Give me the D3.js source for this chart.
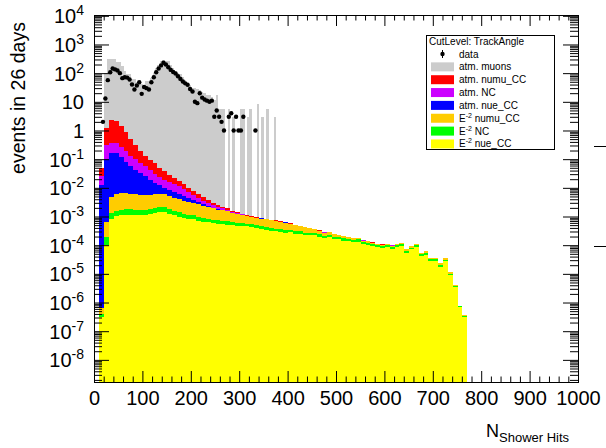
<!DOCTYPE html>
<html><head><meta charset="utf-8">
<script src="https://cdn.jsdelivr.net/npm/d3@7"></script>
<style>
body{margin:0;background:#fff}
svg{display:block}
text{font-family:"Liberation Sans",Arial,Helvetica,sans-serif;fill:#000}
</style></head>
<body><svg id="c" width="606" height="448"></svg>
<script>
// ---------------- DATA ----------------
// neutrino histograms: 10-unit bins starting at 0 (bin i = [10i, 10i+10])
const e2NueCC = [0,3.2e-7,1.0e-4,7.9e-4,1.05e-3,1.12e-3,1.17e-3,1.17e-3,1.12e-3,1.10e-3,
 1.12e-3,1.20e-3,1.32e-3,1.38e-3,1.38e-3,1.26e-3,1.10e-3,1.0e-3,9.1e-4,8.3e-4,
 7.9e-4,7.2e-4,6.6e-4,6.2e-4,5.9e-4,5.6e-4,5.4e-4,5.2e-4,5.0e-4,4.8e-4,
 4.7e-4,4.5e-4,4.2e-4,4.0e-4,3.8e-4,3.5e-4,3.2e-4,3.0e-4,2.8e-4,2.75e-4,
 2.8e-4,2.5e-4,2.5e-4,2.3e-4,2.2e-4,2.2e-4,2.0e-4,1.8e-4,1.9e-4,1.66e-4,
 1.58e-4,1.45e-4,1.35e-4,1.26e-4,1.32e-4,1.12e-4,1.05e-4,9.5e-5,8.7e-5,8.1e-5,
 8.9e-5,7.6e-5,8.7e-5,9.3e-5,5.4e-5,7.1e-5,8.9e-5,4.2e-5,4.7e-5,2.8e-5,
 2.8e-5,1.8e-5,2.75e-5,8.9e-6,3.4e-6,6.8e-7,3.2e-7,0];
const e2NC = [0,8e-8,1.0e-4,5.2e-4,5.4e-4,5.7e-4,6.0e-4,6.0e-4,5.7e-4,5.6e-4,
 5.7e-4,6.1e-4,6.7e-4,7.0e-4,7.0e-4,5.6e-4,4.9e-4,3.8e-4,3.5e-4,3.2e-4,
 3.0e-4,2.7e-4,2.1e-4,2.0e-4,1.9e-4,1.8e-4,1.7e-4,1.7e-4,1.3e-4,1.25e-4,
 1.2e-4,1.2e-4,1.1e-4,1.0e-4,9.9e-5,9.1e-5,8.3e-5,7.8e-5,7.3e-5,7.2e-5,
 5.6e-5,5.0e-5,5.0e-5,4.6e-5,4.4e-5,4.4e-5,4.0e-5,3.6e-5,3.8e-5,3.3e-5,
 3.2e-5,2.9e-5,2.7e-5,2.5e-5,2.6e-5,1.7e-5,1.6e-5,1.4e-5,1.3e-5,1.2e-5,
 1.3e-5,1.1e-5,1.3e-5,1.4e-5,8.1e-6,1.1e-5,1.3e-5,6.3e-6,7.1e-6,4.2e-6,
 4.2e-6,2.7e-6,4.1e-6,1.3e-6,3.4e-7,6.8e-8,3.2e-8,0];
const e2NumuCC = [0,2.3e-7,4.3e-4,3.6e-3,4.6e-3,4.9e-3,4.7e-3,4.5e-3,4.3e-3,4.1e-3,
 3.9e-3,3.9e-3,4.0e-3,4.0e-3,3.8e-3,3.2e-3,2.8e-3,2.6e-3,2.3e-3,2.1e-3,
 1.9e-3,1.7e-3,1.5e-3,1.3e-3,1.15e-3,1.0e-3,9.2e-4,8.2e-4,6.9e-4,6.0e-4,
 5.2e-4,4.5e-4,4.2e-4,3.8e-4,3.7e-4,3.7e-4,3.4e-4,3.3e-4,3.0e-4,2.7e-4,
 2.2e-4,1.9e-4,1.7e-4,1.5e-4,1.3e-4,9.2e-5,7.7e-5,5.7e-5,5.8e-5,4.5e-5,
 3.2e-5,2.9e-5,2.7e-5,2.2e-5,1.8e-5,1.5e-5,1.4e-5,1.3e-5,1.2e-5,1.1e-5,
 1.0e-5,1.0e-5,1.0e-5,1.1e-5,9.3e-6,8.1e-6,1.0e-5,5.8e-6,6.5e-6,3.9e-6,
 3.2e-6,2.4e-6,3.2e-6,1.0e-6,1.9e-7,1.5e-8,7e-9,0];
const atmNueCC = [0,1.26e-2,0.099,0.161,0.152,0.111,0.073,0.050,0.0357,0.0259,
 0.0195,0.0138,0.0091,0.006,0.0043,3.5e-3,3.0e-3,2.3e-3,1.6e-3,1.06e-3,
 7e-4,4.7e-4,2.9e-4,2.0e-4,9e-5,4e-5,4e-5,3e-5,2e-5,2e-5,
 1.5e-5,1.5e-5,1e-5,1e-5,1e-5,8e-6,6e-6,6e-6,5e-6,5e-6,
 4e-6,4e-6,3e-6,3e-6,3e-6,2e-6,2e-6,2e-6,2e-6,1.5e-6,
 1.5e-6,1e-6,1e-6,1e-6,1e-6,8e-7,8e-7,6e-7,6e-7,5e-7,
 5e-7,4e-7,4e-7,3e-7,3e-7,3e-7,2e-7,2e-7,2e-7,1e-7,
 1e-7,1e-7,1e-7,5e-8,0,0,0,0];
const atmNC = [0,1.25e-2,0.216,0.206,0.197,0.158,0.12,0.076,0.058,0.044,
 0.031,0.0232,0.0165,0.012,0.0091,7.3e-3,6.1e-3,4.9e-3,3.7e-3,2.7e-3,
 1.9e-3,1.3e-3,8.6e-4,6.1e-4,4.7e-4,3.2e-4,2.5e-4,2.0e-4,1.2e-4,8e-5,
 6e-5,4e-5,3e-5,2e-5,1.5e-5,1e-5,8e-6,8e-6,6e-6,6e-6,
 5e-6,5e-6,4e-6,4e-6,3e-6,3e-6,3e-6,2e-6,2e-6,2e-6,
 2e-6,1.5e-6,1.5e-6,1e-6,1e-6,1e-6,8e-7,8e-7,6e-7,6e-7,
 5e-7,5e-7,4e-7,4e-7,3e-7,3e-7,3e-7,2e-7,2e-7,2e-7,
 1e-7,1e-7,1e-7,1e-7,0,0,0,0];
const atmNumuCC = [0,2.5e-2,0.94,1.92,1.78,1.20,0.69,0.37,0.20,0.124,
 0.076,0.0506,0.039,0.026,0.019,0.0124,8.9e-3,6.6e-3,4.6e-3,2.9e-3,
 2.3e-3,1.8e-3,1.24e-3,8.5e-4,5.1e-4,3.7e-4,2.8e-4,1.7e-4,1.3e-4,1.0e-4,
 8e-5,6e-5,5e-5,4e-5,3e-5,2e-5,1.5e-5,1.5e-5,1e-5,1e-5,
 8e-6,8e-6,6e-6,6e-6,5e-6,5e-6,4e-6,4e-6,3e-6,3e-6,
 3e-6,2e-6,2e-6,2e-6,1.5e-6,1.5e-6,1e-6,1e-6,1e-6,8e-7,
 8e-7,6e-7,6e-7,5e-7,5e-7,4e-7,4e-7,3e-7,3e-7,2e-7,
 2e-7,2e-7,1e-7,1e-7,0,0,0,0];
// atm. muons and data: 5-unit bins starting at 0 (bin j = [5j, 5j+5])
const atmMuons = [0,0,0,0,100,316,316,300,300,240,
 240,175,117,90,90,60,60,48,48,40,
 40,52,52,69,103,154,200,276,290,276,
 262,200,154,120,103,90,75,60,50,40,
 31,31,28.5,25.65,22.8,19.95,17.1,17.1,14.25,11.4,
 17.1,5.7,5.7,5.7,0,5.7,0,2.85,0,0,
 5.7,5.7,0,2.85,5.7,0,0,8.55,0,2.85,
 0,5.7,0,0,2.85,0];
const dataCounts = [0,0,0,2,13,57,108,145,135,124,
 100,67,72,70,60,40,27,37,48,19,
 33,30,27,48,72,108,145,186,230,200,
 160,130,110,97,78,63,51,44,39,28,
 23,10,9,20,14,12,11,10,11,3,
 5,3,2,1,0,3,4,1,3,1,
 1,3,0,0,0,0,1,0,0,0,
 0,0,0,0,0,0];
const xTickLabels = ["0","100","200","300","400","500","600","700","800","900","1000"];
const yTickExponents = [4,3,2,1,0,-1,-2,-3,-4,-5,-6,-7,-8];
const legendTitle = "CutLevel: TrackAngle";
const legendLabels = [["data"],["atm. muons"],["atm. numu_CC"],["atm. NC"],["atm. nue_CC"],
  ["E","-2"," numu_CC"],["E","-2"," NC"],["E","-2"," nue_CC"]];
const yTitle = "events in 26 days";

// ---------------- LAYOUT ----------------
const svg = d3.select("#c");
const X0 = 94, X1 = 578, Y0 = 382, Y1 = 15;
const x = d3.scaleLinear().domain([0,1000]).range([X0, X1]);
const y = d3.scaleLog().domain([Math.pow(10,-8.772), Math.pow(10,4.028)]).range([Y0, Y1]);
const colors = {muons:"#cccccc", atmNumuCC:"#ff0000", atmNC:"#cc00ff", atmNueCC:"#0000ff",
  e2NumuCC:"#ffcc00", e2NC:"#00ff00", e2NueCC:"#ffff00"};

// build table in 5-unit bins
const nFine = 156;
const rows = d3.range(nFine).map(j => {
  const i = Math.floor(j/2);
  return {lo:j*5, hi:j*5+5,
    e2NueCC:e2NueCC[i]||0, e2NC:e2NC[i]||0, e2NumuCC:e2NumuCC[i]||0,
    atmNueCC:atmNueCC[i]||0, atmNC:atmNC[i]||0, atmNumuCC:atmNumuCC[i]||0,
    muons:atmMuons[j]||0};
});
const keys = ["e2NueCC","e2NC","e2NumuCC","atmNueCC","atmNC","atmNumuCC","muons"];
const stacked = d3.stack().keys(keys)(rows);

svg.append("defs").append("clipPath").attr("id","fr").append("rect")
  .attr("x",X0+0.5).attr("y",Y1+0.5).attr("width",X1-X0).attr("height",Y0-Y1);

const gPlot = svg.append("g").attr("clip-path","url(#fr)");
const area = d3.area().x(p=>p.x).y0(Y0+0.5).y1(p=>p.y);
stacked.slice().reverse().forEach(layer => {
  const pts = [];
  layer.forEach(d => {
    const top = d[1];
    let yp = top > 0 ? y(top) : Y0+0.5;
    yp = Math.max(Y1, Math.min(Y0+0.5, yp));
    pts.push({x:x(d.data.lo)+0.5, y:yp}, {x:x(d.data.hi)+0.5, y:yp});
  });
  gPlot.append("path").attr("d", area(pts)).attr("fill", colors[layer.key])
    .attr("shape-rendering","crispEdges");
});

// data points
gPlot.selectAll("circle.data").data(dataCounts.map((v,j)=>({c:j*5+2.5,v})).filter(d=>d.v>0))
  .enter().append("circle").attr("cx",d=>x(d.c)+0.5).attr("cy",d=>y(d.v)).attr("r",2.2).attr("fill","#000");

// ---------------- AXES ----------------
const majX = d3.range(0,1001,100), minX = d3.range(0,1001,20).filter(v=>v%100);
const majY = yTickExponents.map(e=>Math.pow(10,e));
const minY = [];
for (let e=-9;e<=4;e++) for (let k=2;k<=9;k++){const v=k*Math.pow(10,e); if(v>=y.domain()[0]&&v<=y.domain()[1]) minY.push(v);}
function ax(gen, vals, size, tr){
  const g = svg.append("g").attr("transform",tr).call(gen.tickValues(vals).tickSize(size).tickSizeOuter(0).tickFormat(""));
  g.select(".domain").remove();
  g.selectAll("line").attr("stroke","#000");
}
ax(d3.axisBottom(x), majX, -11, `translate(0,${Y0})`);
ax(d3.axisBottom(x), minX, -5.5, `translate(0,${Y0})`);
ax(d3.axisTop(x), majX, -11, `translate(0,${Y1})`);
ax(d3.axisTop(x), minX, -5.5, `translate(0,${Y1})`);
ax(d3.axisLeft(y), majY, -15, `translate(${X0},0)`);
ax(d3.axisLeft(y), minY, -8, `translate(${X0},0)`);
ax(d3.axisRight(y), majY, -15, `translate(${X1},0)`);
ax(d3.axisRight(y), minY, -8, `translate(${X1},0)`);
svg.append("rect").attr("x",X0+0.5).attr("y",Y1+0.5).attr("width",X1-X0).attr("height",Y0-Y1)
  .attr("fill","none").attr("stroke","#000");

// x labels
svg.selectAll("text.xl").data(xTickLabels).enter().append("text")
  .attr("x",(d,i)=>x(majX[i])+0.5).attr("y",405).attr("text-anchor","middle").attr("font-size",20).text(d=>d);
// y labels
yTickExponents.forEach(e => {
  const t = svg.append("text").attr("x",84).attr("y",y(Math.pow(10,e))+7.5)
    .attr("text-anchor","end").attr("font-size",20);
  if (e===0) t.text("1");
  else if (e===1) t.text("10");
  else { t.append("tspan").text("10"); t.append("tspan").attr("font-size",14).attr("dy",-8).text(String(e)); }
});
// titles
const xt = svg.append("text").attr("x",486).attr("y",437).attr("font-size",18);
xt.append("tspan").text("N");
xt.append("tspan").attr("font-size",13).attr("dy",5).text("Shower Hits");
svg.append("text").attr("transform","translate(25,98) rotate(-90)").attr("text-anchor","middle")
  .attr("font-size",19.5).text(yTitle);

// stray marks at right edge
[146.5,246.5].forEach(yy=>svg.append("line").attr("x1",594).attr("x2",606).attr("y1",yy).attr("y2",yy).attr("stroke","#000"));

// ---------------- LEGEND ----------------
const lg = svg.append("g");
lg.append("rect").attr("x",426.5).attr("y",35.5).attr("width",128).attr("height",114).attr("fill","#fff").attr("stroke","#000");
lg.append("text").attr("x",429).attr("y",45).attr("font-size",10).text(legendTitle);
const swatchColors = [null, colors.muons, colors.atmNumuCC, colors.atmNC, colors.atmNueCC, colors.e2NumuCC, colors.e2NC, colors.e2NueCC];
legendLabels.forEach((lab,k) => {
  const cy = 54 + k*12.85;
  if (k===0) {
    lg.append("line").attr("x1",442.5).attr("x2",442.5).attr("y1",cy-4).attr("y2",cy+4).attr("stroke","#000");
    lg.append("circle").attr("cx",442.5).attr("cy",cy).attr("r",2.2).attr("fill","#000");
  } else {
    lg.append("rect").attr("x",431).attr("y",cy-4.5).attr("width",23).attr("height",9).attr("fill",swatchColors[k]);
  }
  const t = lg.append("text").attr("x",459).attr("y",cy+3.5).attr("font-size",10);
  if (lab.length===1) t.text(lab[0]);
  else { t.append("tspan").text(lab[0]); t.append("tspan").attr("font-size",7).attr("dy",-4).text(lab[1]); t.append("tspan").attr("dy",4).text(lab[2]); }
});
</script></body></html>
